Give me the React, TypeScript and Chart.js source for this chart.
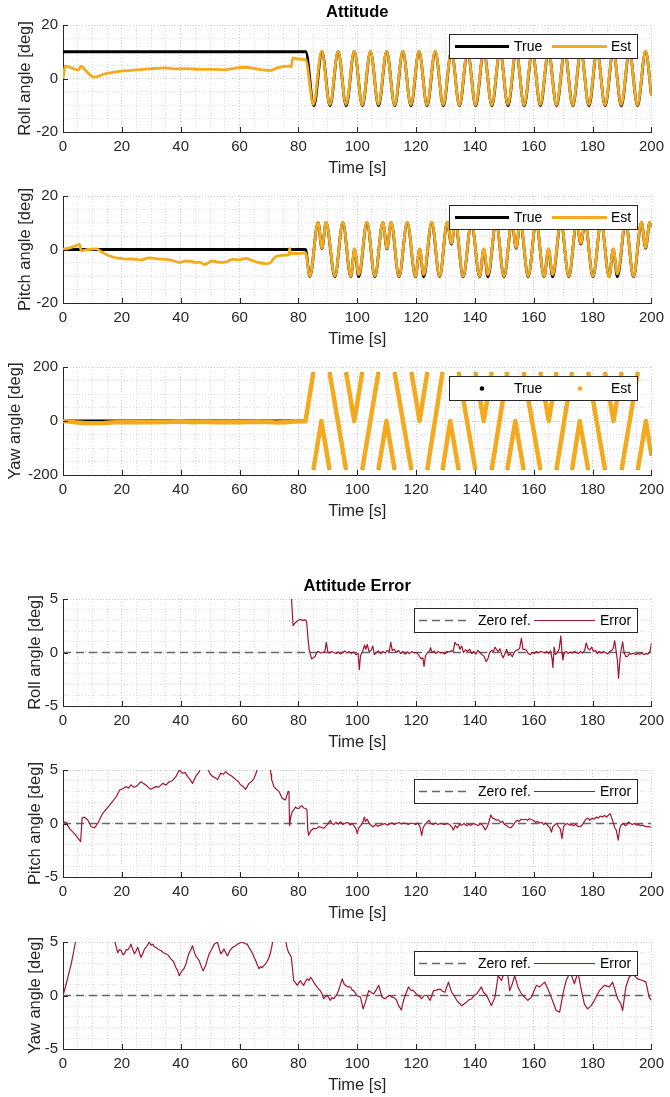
import React, { useEffect, useRef } from 'react';
import { Chart, registerables } from 'chart.js';

Chart.register(...registerables);

const FONT = '"Liberation Sans", Arial, Helvetica, sans-serif';
const INK = '#262626';
const TRUE_C = '#000000';
const EST_C = 'rgb(243,170,30)';
const ERR_C = '#A2142F';
const ZERO_C = '#666666';

const timeTicks = [0, 20, 40, 60, 80, 100, 120, 140, 160, 180, 200];
const angleTicks = [-20, 0, 20];
const yawTicks = [-200, 0, 200];
const errTicks = [-5, 0, 5];

type Pt = [number, number | null];

// ---------- Attitude: roll ----------
const rollTrue: Pt[] = [[0,10],[82.5,10],[85.25,-10.2],[88,10.1],[90.75,-10.2],[93.5,10.1],[96.25,-10.2],[99,10.1],[101.75,-10.2],[104.5,10.1],[107.25,-10.2],[110,10.1],[112.75,-10.2],[115.5,10.1],[118.25,-10.2],[121,10.1],[123.75,-10.2],[126.5,10.1],[129.25,-10.2],[132,10.1],[134.75,-10.2],[137.5,10.1],[140.25,-10.2],[143,10.1],[145.75,-10.2],[148.5,10.1],[151.25,-10.2],[154,10.1],[156.75,-10.2],[159.5,10.1],[162.25,-10.2],[165,10.1],[167.75,-10.2],[170.5,10.1],[173.25,-10.2],[176,10.1],[178.75,-10.2],[181.5,10.1],[184.25,-10.2],[187,10.1],[189.75,-10.2],[192.5,10.1],[195.25,-10.2],[198,10.1],[200,-6.5]];
const rollEst: Pt[] = [[0,0],[0.8,4.6],[2.8,4.0],[5.1,3.1],[6.2,4.6],[7.3,3.4],[10.7,0.5],[13.5,1.5],[16,2.1],[19.2,2.7],[24,3.1],[29.3,3.6],[35,4.0],[38,3.6],[41.8,3.7],[46.3,3.4],[51.9,3.4],[55,3.2],[57.6,3.7],[62,4.2],[66.6,3.4],[70.5,3.0],[72.8,4.0],[76.7,4.6],[77.6,4.4],[78.1,7.7],[79.6,7.3],[82.4,7.1],[85.1,-9.7],[87.9,10.3],[90.7,-9.8],[93.5,10.2],[96.2,-9.7],[99,10.2],[101.7,-9.9],[104.5,10.2],[107.2,-9.7],[110,10.2],[112.7,-9.9],[115.5,10.2],[118.2,-9.8],[121,10.2],[123.7,-9.9],[126.5,10.3],[129.2,-9.8],[132,10.2],[134.7,-10],[137.5,10.2],[140.2,-9.9],[143,10.2],[145.7,-9.9],[148.5,10.2],[151.2,-9.7],[154,10.3],[156.7,-9.9],[159.5,10.2],[162.2,-9.8],[165,10.2],[167.7,-9.9],[170.5,10.2],[173.2,-10],[176,10.2],[178.7,-9.8],[181.5,10.2],[184.2,-9.9],[187,10.2],[189.7,-9.8],[192.5,10.2],[195.2,-9.9],[198,10.3],[200,-6.6]];

// ---------- Attitude: pitch ----------
const pitchTrue: Pt[] = [[0,0],[82.4,0],[83.9,-10.1],[86.7,10.1],[88.0,0.3],[89.4,10.1],[92.4,-10.2],[95.1,10.1],[97.8,-10.2],[99.1,0],[100.5,-10.2],[103.3,10.1],[106.0,-10.2],[108.7,10.1],[110.1,0.3],[111.5,10.1],[114.2,-10.2],[117.0,10.1],[119.8,-10.2],[121.2,0],[122.6,-10.2],[125.3,10.1],[128.0,-10.2],[130.6,10.1],[132.0,2],[133.3,10.1],[136.0,-10.2],[138.8,10.1],[141.6,-10.2],[143.0,0],[144.4,-10.2],[147.2,10.1],[149.9,-10.2],[152.6,10.1],[154.0,0.5],[155.4,10.1],[158.1,-10.2],[160.8,10.1],[163.5,-10.2],[165.0,0],[166.4,-10.2],[169.2,10.1],[171.9,-10.2],[174.6,10.1],[176.0,2],[177.4,10.1],[180.1,-10.2],[182.9,10.1],[185.6,-10.2],[187.0,0],[188.4,-10.2],[191.2,10.1],[193.9,-10.2],[196.6,10.1],[198.0,0.5],[199.4,10.1],[200,8.3]];
const pitchEst: Pt[] = [[0,0],[2.3,0.6],[4,1.2],[5.6,1.9],[6.2,-0.4],[8.5,0],[11.3,0.2],[13,-0.8],[14.7,-1.9],[17,-2.8],[19.2,-3.3],[21.5,-3.6],[23.7,-3.5],[26.5,-3.9],[29.3,-3.1],[32,-3.5],[35,-3.7],[37.5,-4.2],[39.5,-4.9],[41.8,-4.3],[43.5,-4.4],[45.1,-4.9],[46.5,-4.7],[48,-5.6],[50.8,-4.3],[53,-4.8],[55.3,-4.7],[57.6,-3.7],[60,-3.9],[62,-3.3],[65.5,-4.6],[68.8,-5.3],[70.5,-4.9],[72.2,-2.7],[75.6,-2.1],[76.8,-2.0],[77,0.4],[77.4,-1.5],[80.1,-1.5],[82.4,-1.2],[83.9,-9.9],[86.7,10.2],[88.0,0.5],[89.4,10.2],[92.4,-9.9],[95.1,10.2],[97.8,-10.1],[99.1,0.3],[100.5,-9.4],[103.3,10.2],[106.0,-9.9],[108.7,10.2],[110.1,0.5],[111.5,10.2],[114.2,-10.0],[117.0,10.2],[119.8,-10.0],[121.2,0.2],[122.6,-9.4],[125.3,10.2],[128.0,-10],[130.6,10.2],[132.0,2.3],[133.3,10.2],[136.0,-10],[138.8,10.2],[141.6,-10],[143.0,0.3],[144.4,-9.4],[147.2,10.2],[149.9,-10],[152.6,10.2],[154.0,0.7],[155.4,10.2],[158.1,-10],[160.8,10.2],[163.5,-10],[165.0,0.3],[166.4,-9.4],[169.2,10.2],[171.9,-10],[174.6,10.2],[176.0,2.3],[177.4,10.2],[180.1,-10],[182.9,10.2],[185.6,-10.3],[187.0,0.3],[188.4,-9.2],[191.2,10.2],[193.9,-10],[196.6,10.2],[198.0,0.7],[199.4,10.2],[200,8.1]];

// ---------- Attitude: yaw (wrapped to +/-180, null = wrap break) ----------
const yawWrapped: Pt[] = [[85.1,180],[85.1,null],[85.1,-180],[87.8,0],[90.6,-180],[90.6,null],[90.6,180],[96.2,-180],[96.2,null],[96.2,180],[99.0,0],[101.7,180],[101.7,null],[101.7,-180],[107.2,180],[107.2,null],[107.2,-180],[109.9,0],[112.7,-180],[112.7,null],[112.7,180],[118.4,-180],[118.4,null],[118.4,180],[121.2,0],[123.8,180],[123.8,null],[123.8,-180],[129.0,180],[129.0,null],[129.0,-180],[131.6,0],[134.45,-180],[134.45,null],[134.45,180],[140.15,-180],[140.15,null],[140.15,180],[143.0,0],[145.7,180],[145.7,null],[145.7,-180],[151.0,180],[151.0,null],[151.0,-180],[153.7,0],[156.55,-180],[156.55,null],[156.55,180],[162.25,-180],[162.25,null],[162.25,180],[165.1,0],[167.7,180],[167.7,null],[167.7,-180],[173.0,180],[173.0,null],[173.0,-180],[175.6,0],[178.5,-180],[178.5,null],[178.5,180],[184.2,-180],[184.2,null],[184.2,180],[187.1,0],[189.85,180],[189.85,null],[189.85,-180],[195.35,180],[195.35,null],[195.35,-180],[198.1,0],[200,-128]];
const yawTrueStart: Pt[] = [[0,0],[82.4,0]];
const yawEstStart: Pt[] = [[0,0],[2,-2],[4,-5],[8,-8],[14,-7],[18,-5],[22,-4],[30,-5],[36,-3.5],[40,-2],[44,-4.5],[48,-2.5],[52,-5],[56,-4],[61,-5],[66,-2.5],[70,-3.5],[73,-6],[77,-3.5],[78.5,-1.4],[82.4,-1.3]];

// ---------- Attitude error ----------
const zeroRef: Pt[] = [[0,0],[200,0]];
const rollErr: Pt[] = [[0,10],[1,5.4],[3,6.2],[5,6.9],[6.3,5.6],[7.5,6.8],[10.7,9.4],[13.5,8.5],[19,7.3],[29,6.4],[35,6.0],[42,6.3],[46,6.6],[52,6.6],[58,6.3],[62,5.8],[66.5,6.6],[70.5,7.0],[72.8,6.0],[76.7,5.4],[77.5,5.8],[78.2,2.5],[78.7,2.7],[79.4,2.9],[80.5,3.1],[81.5,3.0],[82.3,3.05],[82.8,2.9],[83.3,1.2],[83.7,0.2],[84.5,-0.6],[85.1,-0.5],[85.7,-0.35],[86.3,0.05],[86.8,0.1],[87.5,-0.05],[88.3,0.0],[89.0,0.1],[89.5,0.95],[90.0,0.05],[90.6,-0.05],[91.3,0.1],[92,0.0],[92.8,-0.1],[93.5,0.05],[94.3,-0.15],[95,0.0],[95.8,0.15],[96.5,-0.05],[97.2,0.1],[98,-0.1],[98.8,0.05],[99.6,-0.2],[100.3,-0.1],[100.7,-1.6],[101.1,-0.3],[101.8,0.1],[102.5,0.7],[102.9,0.3],[103.4,0.75],[104,0.1],[104.7,0.2],[105.3,0.6],[105.8,-0.2],[106.5,0.0],[107.2,0.15],[108,-0.1],[108.7,0.1],[109.5,-0.05],[110.2,0.2],[110.9,0.1],[111.4,0.95],[111.9,0.2],[112.6,0.3],[113.3,0.0],[114,0.2],[114.8,-0.1],[115.5,0.1],[116.3,-0.15],[117,0.05],[117.8,-0.1],[118.6,0.1],[119.4,-0.05],[120.2,0.0],[121,-0.3],[121.7,-0.6],[122.3,-0.5],[122.7,-1.3],[123.2,-0.3],[123.9,0.0],[124.5,0.1],[124.9,0.45],[125.4,0.0],[126.1,0.15],[126.8,-0.1],[127.5,0.1],[128.3,-0.05],[129,0.0],[129.8,-0.15],[130.5,0.1],[131.3,0.05],[132,0.15],[132.6,0.1],[133.2,0.95],[133.8,0.7],[134.4,0.75],[134.9,0.3],[135.5,0.6],[136.1,0.0],[136.8,0.25],[137.5,0.1],[138.2,0.3],[138.9,-0.1],[139.6,0.1],[140.3,-0.15],[141,0.2],[141.7,0.0],[142.4,-0.2],[143.1,-0.35],[143.8,-0.85],[144.4,-0.6],[145,0.0],[145.7,0.2],[146.3,0.1],[146.8,0.5],[147.3,0.3],[147.9,0.1],[148.5,0.35],[149.1,-0.2],[149.6,-0.5],[150.2,-0.1],[150.8,0.3],[151.4,-0.3],[152,-0.1],[152.7,-0.4],[153.3,0.0],[154,0.2],[154.6,0.25],[155.2,0.4],[155.8,1.35],[156.3,0.3],[156.9,0.3],[157.5,0.2],[158.1,-0.1],[158.8,-0.2],[159.5,0.0],[160.2,-0.1],[160.9,0.1],[161.6,-0.05],[162.3,0.1],[163,0.05],[163.7,-0.05],[164.4,0.1],[165,-0.1],[165.7,0.15],[166.2,-0.6],[166.5,-1.4],[166.9,0.5],[167.4,-0.2],[168,0.0],[168.6,0.3],[169.2,1.55],[169.6,-0.1],[169.9,-0.7],[170.4,0.0],[171,0.1],[171.7,-0.1],[172.4,0.05],[173.1,-0.05],[173.8,0.1],[174.5,0.0],[175.2,-0.1],[175.9,0.1],[176.6,-0.05],[177.3,0.2],[177.8,0.9],[178.4,0.4],[179,0.25],[179.7,0.5],[180.3,0.1],[181,0.2],[181.6,-0.1],[182.3,0.1],[183,-0.05],[183.7,0.1],[184.4,0.0],[185.1,-0.15],[185.8,0.1],[186.5,0.2],[187,0.4],[187.5,1.1],[187.9,0.3],[188.4,-0.7],[188.8,-2.4],[189.3,-0.6],[189.7,0.3],[190.2,1.0],[190.7,0.0],[191.3,-0.4],[191.9,-0.35],[192.5,-0.1],[193.2,-0.15],[193.9,-0.05],[194.6,-0.2],[195.3,-0.1],[196,-0.15],[196.7,-0.05],[197.4,-0.2],[198.1,-0.1],[198.8,-0.15],[199.5,0.1],[200,0.9]];
const pitchErr: Pt[] = [[0,0.15],[1,0.1],[2.3,-0.5],[3.9,-0.95],[5.6,-1.55],[6,-1.7],[6.5,0.5],[7.3,0.6],[8.5,0.3],[9.6,-0.3],[10.7,-0.4],[11.8,0.0],[13.5,0.95],[15.8,1.7],[18.1,2.5],[19.2,3.1],[20.3,3.25],[21.4,3.45],[22.2,3.3],[23.1,3.6],[24,3.4],[24.8,3.45],[25.6,3.65],[26.5,3.9],[27.3,3.75],[28.2,3.6],[29.1,3.35],[29.9,3.2],[30.8,3.35],[31.6,3.45],[32.5,3.4],[33.9,3.75],[35,3.6],[36.1,3.9],[37.2,4.0],[38.4,4.4],[39.5,5.0],[40.6,4.7],[41.5,4.75],[42.3,4.4],[43.2,4.1],[44,3.75],[45.1,4.4],[46.3,4.85],[47,5.3],[48,5.6],[49.4,4.95],[50.1,4.6],[50.8,4.4],[51.6,4.3],[52.5,4.1],[53.6,4.7],[54.5,4.6],[55.3,4.85],[56.2,4.6],[57,4.5],[57.9,4.3],[58.7,4.1],[59.6,3.9],[60.4,3.6],[61.2,3.45],[62.1,3.2],[63.2,3.75],[64,3.9],[64.9,4.2],[65.6,4.7],[66.2,5.2],[68,6],[70.3,5.3],[70.7,4.6],[70.9,4.1],[71.7,3.45],[72.5,3.2],[73.4,3.0],[74.5,2.35],[75.6,2.2],[76.5,3.0],[76.8,2.9],[77,-0.2],[77.4,0.6],[77.9,1.1],[78.5,1.3],[79,1.55],[79.6,1.4],[80.1,1.4],[80.7,1.6],[81.2,1.65],[81.8,1.45],[82.4,1.4],[82.9,1.3],[83.2,-0.6],[83.5,-1.1],[84.2,-0.7],[85.2,-0.45],[86,-0.5],[86.9,-0.3],[87.7,-0.35],[88.6,-0.45],[89.7,-0.15],[90.4,0.1],[90.8,0.3],[91.4,0.0],[92,-0.1],[92.8,0.1],[93.6,-0.05],[94.4,0.15],[95.2,-0.1],[96,0.05],[96.8,0.1],[97.6,-0.15],[98.4,0.0],[99.1,-0.3],[99.6,-0.5],[100,-0.95],[100.5,-0.4],[101.2,-0.2],[102,0.2],[102.4,0.6],[102.8,0.2],[103.4,0.4],[104.1,0.0],[104.8,-0.2],[105.5,-0.3],[106.2,-0.1],[107,-0.25],[107.8,-0.15],[108.6,-0.1],[109.4,0.0],[110.2,-0.15],[111,-0.05],[111.8,0.05],[112.6,-0.1],[113.4,0.0],[114.2,0.1],[115,-0.05],[115.8,0.05],[116.6,0.0],[117.4,-0.1],[118.2,0.05],[119,0.0],[119.8,-0.1],[120.6,0.05],[121.3,-0.3],[121.9,-1.1],[122.4,-0.4],[123,-0.1],[123.7,0.1],[124.4,0.3],[125,0.0],[125.8,-0.1],[126.6,0.05],[127.4,-0.1],[128.2,0.0],[129,-0.05],[129.8,-0.1],[130.6,0.0],[131.4,-0.1],[132.1,-0.3],[132.7,-0.6],[133.3,-0.2],[134,-0.4],[134.7,-0.1],[135.5,-0.15],[136.3,0.0],[137.1,-0.2],[137.9,-0.1],[138.7,-0.15],[139.5,0.0],[140.3,-0.1],[141.1,-0.2],[141.9,0.0],[142.7,-0.2],[143.5,-0.6],[144.2,-0.3],[144.8,0.2],[145.4,0.8],[146,0.5],[146.6,0.45],[147.3,0.3],[148,0.35],[148.7,0.1],[149.4,0.2],[150.1,-0.1],[150.8,-0.2],[151.5,-0.35],[152.2,-0.4],[152.9,-0.2],[153.6,0.1],[154.3,0.3],[155,0.2],[155.7,0.4],[156.4,0.35],[157.1,0.4],[157.8,0.3],[158.5,0.45],[159.2,0.35],[159.9,0.3],[160.6,0.1],[161.3,0.2],[162,0.05],[162.7,0.1],[163.4,-0.1],[164.1,0.05],[164.8,-0.2],[165.5,-0.4],[166,-0.8],[166.5,-0.3],[167.2,-0.1],[167.8,0.0],[168.4,-0.3],[169,-0.5],[169.6,-1.4],[170.1,-0.3],[170.7,-0.1],[171.4,0.0],[172.1,-0.15],[172.8,-0.1],[173.5,-0.2],[174.2,-0.1],[174.9,-0.25],[175.6,-0.3],[176.3,-0.2],[177,0.1],[177.7,0.4],[178.4,0.5],[179.1,0.3],[179.8,0.5],[180.5,0.4],[181.2,0.6],[181.9,0.5],[182.6,0.7],[183.3,0.6],[184,0.75],[184.7,0.6],[185.4,0.8],[186,0.9],[186.5,0.5],[187,0.1],[187.5,-0.4],[188,-0.6],[188.7,-1.55],[189.2,-0.5],[189.8,-0.1],[190.4,0.0],[191,-0.2],[191.6,-0.1],[192.2,0.15],[192.8,0.0],[193.5,-0.1],[194.2,0.0],[194.9,-0.15],[195.6,-0.1],[196.3,-0.2],[197,-0.15],[197.7,-0.25],[198.4,-0.3],[199.1,-0.3],[200,-0.35]];
const yawErr: Pt[] = [[0,0],[1.1,1.1],[2.8,2.95],[4,4.65],[4.4,5.2],[6,6.5],[10,7.5],[15,6.5],[17.5,5.2],[18.2,4.4],[18.6,4.0],[19.2,4.3],[19.8,4.2],[20.4,3.8],[20.9,3.9],[21.5,4.3],[22,4.25],[22.6,4.5],[23.1,4.8],[23.7,4.3],[24.3,3.9],[24.9,4.2],[25.4,4.5],[26,4.0],[26.5,3.55],[27.1,3.9],[27.7,4.35],[28.5,4.6],[29.3,5.0],[29.9,4.7],[30.5,4.8],[31,4.55],[31.6,4.5],[32.4,4.3],[33.3,4.2],[34.1,4.0],[35,3.9],[35.8,3.75],[36.7,3.4],[37.5,3.2],[38.4,2.6],[39,2.3],[39.5,1.85],[40,2.1],[40.4,2.3],[41.1,2.5],[41.8,2.95],[42.3,3.5],[42.9,4.0],[43.5,4.3],[44,4.65],[44.6,4.1],[45.1,3.7],[45.7,3.5],[46.3,3.25],[47,2.7],[47.6,2.3],[48.1,2.6],[48.5,2.8],[49.1,3.4],[49.7,3.9],[50.5,4.3],[51.4,4.8],[52.5,5.0],[53.1,4.4],[53.6,3.9],[54.2,4.1],[54.7,4.35],[55.3,4.0],[55.9,3.7],[56.7,4.2],[57.6,4.5],[58.4,4.6],[59.3,4.8],[60.1,4.9],[60.9,5.0],[61.8,4.85],[62.6,4.8],[63.4,4.4],[64.3,4.0],[64.9,3.6],[65.5,3.25],[66,2.9],[66.6,2.5],[67.2,2.7],[67.7,2.6],[68.3,2.8],[68.8,2.95],[69.4,3.2],[70,3.55],[70.5,4.0],[70.9,4.5],[71.3,5.1],[73,7],[75.6,5.2],[76.2,4.4],[76.7,4.0],[77.2,3.8],[77.6,3.55],[78.1,2.2],[78.4,1.4],[79,1.2],[79.6,0.95],[80.2,1.2],[80.7,1.4],[81.3,1.1],[81.8,0.95],[82.4,1.3],[83,1.55],[83.6,1.4],[84.1,1.7],[84.7,1.5],[85.2,1.25],[85.8,1.0],[86.3,0.8],[86.9,0.6],[87.5,0.45],[88.1,0.1],[88.6,-0.3],[89.2,-0.1],[89.7,0.0],[90.3,-0.2],[90.8,-0.45],[91.4,-0.2],[92.05,-0.3],[93.2,0.15],[93.8,0.6],[94.9,1.55],[95.5,1.1],[96,0.95],[96.9,0.8],[97.7,0.8],[98.3,0.5],[98.8,0.45],[99.9,0.0],[101.1,-0.15],[102,-1.25],[102.8,-0.6],[103.9,0.45],[104.7,0.3],[105.6,0.15],[106.4,0.5],[107.3,0.95],[108.4,-0.15],[109.5,-0.3],[110.7,0.0],[111.5,-0.1],[112.4,-0.2],[113.3,-0.4],[114.05,-0.95],[115,-1.35],[115.6,-0.6],[116.3,0.0],[117.4,0.8],[118.2,0.5],[119.1,0.45],[119.9,0.2],[120.8,0.0],[121.9,-0.3],[122.7,0.0],[123.6,0.0],[124.8,-0.45],[125.9,0.45],[126.9,0.5],[128.1,0.6],[129,0.4],[129.8,0.3],[131,1.25],[132.1,0.3],[132.9,0.0],[133.8,-0.45],[134.6,-0.7],[135.5,-0.95],[137.2,-0.6],[138,-0.4],[138.9,-0.3],[139.7,0.0],[140.6,0.15],[142.2,0.8],[142.9,0.3],[144,0.0],[145.6,-0.95],[146.8,-0.15],[147.9,1.85],[149,1.4],[150.1,2.2],[150.7,2.9],[151.3,1.6],[151.8,0.45],[152.6,1.0],[153.5,1.85],[154.6,0.8],[155.5,0.3],[156.3,0.0],[158,-0.45],[159.2,-0.15],[160.9,0.95],[162,0.8],[163.7,1.25],[164.8,0.6],[165.9,-0.15],[166.8,-0.8],[167.6,-1.4],[168.8,-1.55],[169.9,0.15],[171,1.4],[172.4,2.2],[173.8,1.1],[175,2.2],[176.1,0.6],[177.2,-0.8],[178.3,-1.25],[179.5,-0.95],[180.6,-0.45],[182.3,0.45],[184,0.95],[185.7,0.8],[186.8,1.25],[188.5,-0.3],[189.6,-0.8],[190.2,-1.4],[191.3,0.8],[192.4,1.7],[193.6,2.0],[195.3,1.55],[197,1.4],[198.1,1.25],[199.2,-0.15],[200,-0.45]];

const xy = (pts: Pt[]) => pts.map(([x, y]) => ({ x, y }));

const LEG_STD = { w: 188, h: 24, right: 14, top: 9, items: [
  { ds: 1, x0: 6, x1: 60, tx: 65 },
  { ds: 0, x0: 103, x1: 158, tx: 162 },
] };
const LEG_YAW = { w: 188, h: 24, right: 14, top: 9, items: [
  { ds: 1, dot: 33, tx: 65 },
  { ds: 0, dot: 131, tx: 162 },
] };
const LEG_ERR = { w: 223, h: 24, right: 14, top: 9, items: [
  { ds: 1, x0: 5, x1: 56, tx: 64 },
  { ds: 0, x0: 120, x1: 181, tx: 186 },
] };

const line = (label: string, pts: Pt[], color: string, width: number, order: number, smooth: boolean, dash?: number[]) => ({
  label, data: xy(pts), borderColor: color, backgroundColor: color, borderWidth: width, order,
  pointRadius: 0, fill: false, tension: 0, spanGaps: false,
  cubicInterpolationMode: smooth ? 'monotone' : 'default', borderDash: dash || [],
  borderCapStyle: 'butt', borderJoinStyle: 'round',
});

const plots = [
  { top: 0, padTop: 25, plotH: 107, title: 'Attitude', yLabel: 'Roll angle [deg]', yTitleX: 25,
    yMin: -20, yMax: 20, yStep: 5, yTicks: angleTicks, legend: LEG_STD,
    datasets: [line('Est', rollEst, EST_C, 2.8, 0, true), line('True', rollTrue, TRUE_C, 2.8, 1, true)] },
  { top: 180, padTop: 16, plotH: 107, yLabel: 'Pitch angle [deg]', yTitleX: 25,
    yMin: -20, yMax: 20, yStep: 5, yTicks: angleTicks, legend: LEG_STD,
    datasets: [line('Est', pitchEst, EST_C, 2.8, 0, true), line('True', pitchTrue, TRUE_C, 2.8, 1, true)] },
  { top: 351, padTop: 16, plotH: 108, yLabel: 'Yaw angle [deg]', yTitleX: 15,
    yMin: -200, yMax: 200, yStep: 50, yTicks: yawTicks, legend: LEG_YAW,
    datasets: [line('Est', [...yawEstStart, ...yawWrapped], EST_C, 4.5, 0, false), line('True', [...yawTrueStart, ...yawWrapped], TRUE_C, 3, 1, false)] },
  { top: 569, padTop: 30, plotH: 107, title: 'Attitude Error', yLabel: 'Roll angle [deg]', yTitleX: 35,
    yMin: -5, yMax: 5, yStep: 1, yTicks: errTicks, legend: LEG_ERR,
    datasets: [line('Error', rollErr, ERR_C, 1.2, 0, false), line('Zero ref.', zeroRef, ZERO_C, 1.4, 1, false, [8, 5])] },
  { top: 754, padTop: 16, plotH: 107, yLabel: 'Pitch angle [deg]', yTitleX: 35,
    yMin: -5, yMax: 5, yStep: 1, yTicks: errTicks, legend: LEG_ERR,
    datasets: [line('Error', pitchErr, ERR_C, 1.2, 0, false), line('Zero ref.', zeroRef, ZERO_C, 1.4, 1, false, [8, 5])] },
  { top: 926, padTop: 16, plotH: 107, yLabel: 'Yaw angle [deg]', yTitleX: 35,
    yMin: -5, yMax: 5, yStep: 1, yTicks: errTicks, legend: LEG_ERR,
    datasets: [line('Error', yawErr, ERR_C, 1.2, 0, false), line('Zero ref.', zeroRef, ZERO_C, 1.4, 1, false, [8, 5])] },
];

const XAXIS_H = 46;

function makeDecor(spec: any) {
  return {
    id: 'decor',
    afterDraw(chart: any) {
      const { ctx, chartArea: a } = chart;
      const xs = chart.scales.x;
      const ys = chart.scales.y;
      ctx.save();
      ctx.setLineDash([]);
      ctx.strokeStyle = INK;
      ctx.lineWidth = 1;
      ctx.beginPath();
      timeTicks.forEach((v) => {
        const px = Math.round(xs.getPixelForValue(v)) + 0.5;
        ctx.moveTo(px, a.bottom);
        ctx.lineTo(px, a.bottom - 5);
      });
      spec.yTicks.forEach((v: number) => {
        const py = Math.round(ys.getPixelForValue(v)) + 0.5;
        ctx.moveTo(a.left, py);
        ctx.lineTo(a.left + 5, py);
      });
      ctx.stroke();

      if (spec.title) {
        ctx.font = `bold 16.5px ${FONT}`;
        ctx.fillStyle = '#000';
        ctx.textAlign = 'center';
        ctx.textBaseline = 'middle';
        ctx.fillText(spec.title, (a.left + a.right) / 2, a.top - 13);
      }

      const L = spec.legend;
      const bx = Math.round(a.right - L.right - L.w);
      const by = Math.round(a.top + L.top);
      ctx.fillStyle = '#ffffff';
      ctx.fillRect(bx, by, L.w, L.h);
      ctx.strokeStyle = INK;
      ctx.lineWidth = 1;
      ctx.strokeRect(bx + 0.5, by + 0.5, L.w, L.h);
      const cy = by + L.h / 2 + 0.5;
      ctx.font = `14px ${FONT}`;
      ctx.textAlign = 'left';
      ctx.textBaseline = 'middle';
      L.items.forEach((it: any) => {
        const ds = chart.data.datasets[it.ds];
        if (it.dot !== undefined) {
          ctx.beginPath();
          ctx.fillStyle = ds.borderColor;
          ctx.arc(bx + it.dot, cy, 2.3, 0, Math.PI * 2);
          ctx.fill();
        } else {
          ctx.beginPath();
          ctx.setLineDash(ds.borderDash || []);
          ctx.strokeStyle = ds.borderColor;
          ctx.lineWidth = ds.borderWidth;
          ctx.moveTo(bx + it.x0, cy);
          ctx.lineTo(bx + it.x1, cy);
          ctx.stroke();
          ctx.setLineDash([]);
        }
        ctx.fillStyle = '#000';
        ctx.fillText(ds.label, bx + it.tx, cy + 0.5);
      });
      ctx.restore();
    },
  };
}

function buildConfig(spec: any): any {
  const gridColor = (major: boolean) => (major ? '#cdcdcd' : '#dcdcdc');
  return {
    type: 'line',
    data: { datasets: spec.datasets },
    plugins: [makeDecor(spec)],
    options: {
      animation: false,
      responsive: false,
      maintainAspectRatio: false,
      devicePixelRatio: 1,
      events: [],
      layout: { padding: { left: 0, right: 16, top: spec.padTop, bottom: 0 } },
      plugins: { legend: { display: false }, tooltip: { enabled: false }, title: { display: false } },
      elements: { point: { radius: 0 } },
      scales: {
        x: {
          type: 'linear', min: 0, max: 200,
          afterFit: (s: any) => { s.height = XAXIS_H; },
          ticks: {
            stepSize: 5, autoSkip: false, maxRotation: 0, minRotation: 0, padding: 6, color: INK,
            font: { family: FONT, size: 15 },
            callback: (v: number) => (timeTicks.includes(v) ? String(v) : ''),
          },
          grid: {
            drawTicks: false, lineWidth: 1,
            color: (c: any) => gridColor(c.tick && timeTicks.includes(c.tick.value)),
          },
          border: { display: true, color: INK, width: 1, dash: [1, 2] },
          title: { display: true, text: 'Time [s]', color: INK, font: { family: FONT, size: 16.5 }, padding: { top: 0, bottom: 0 } },
        },
        y: {
          type: 'linear', min: spec.yMin, max: spec.yMax,
          afterFit: (s: any) => { s.width = 63; },
          ticks: {
            stepSize: spec.yStep, autoSkip: false, padding: 5, color: INK,
            font: { family: FONT, size: 15 },
            callback: (v: number) => (spec.yTicks.includes(v) ? String(v) : ''),
          },
          grid: {
            drawTicks: false, lineWidth: 1,
            color: (c: any) => gridColor(c.tick && spec.yTicks.includes(c.tick.value)),
          },
          border: { display: true, color: INK, width: 1, dash: [1, 2] },
          title: { display: true, text: spec.yLabel, color: INK, font: { family: FONT, size: 16.5 }, padding: { top: spec.yTitleX - 9.9, bottom: 0 } },
        },
      },
    },
  };
}

function Plot({ spec }: { spec: any }) {
  const ref = useRef<HTMLCanvasElement>(null);
  const height = spec.padTop + spec.plotH + XAXIS_H;
  useEffect(() => {
    const chart = new Chart(ref.current as HTMLCanvasElement, buildConfig(spec));
    return () => chart.destroy();
  }, []);
  return (
    <canvas
      ref={ref}
      width={670}
      height={height}
      style={{ position: 'absolute', left: 0, top: spec.top, width: 670, height, display: 'block' }}
    />
  );
}

export default function App() {
  return (
    <div style={{ position: 'absolute', left: 0, top: 0, width: 670, height: 1097, background: '#ffffff', overflow: 'hidden' }}>
      {plots.map((p, i) => (
        <Plot key={i} spec={p} />
      ))}
    </div>
  );
}
